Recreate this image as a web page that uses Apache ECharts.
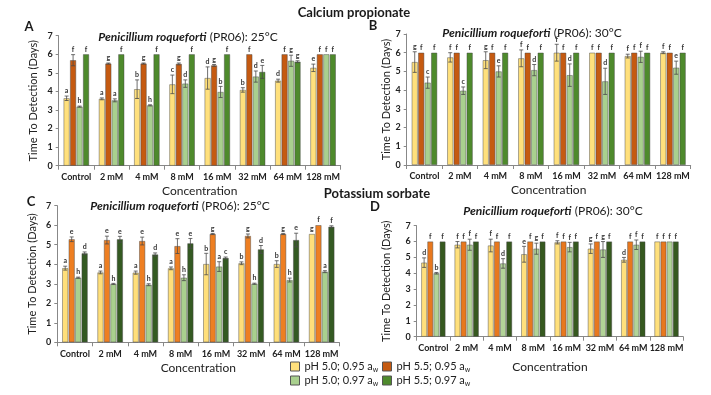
<!DOCTYPE html>
<html><head><meta charset="utf-8">
<script src="https://cdn.jsdelivr.net/npm/echarts@6/dist/echarts.min.js"></script>
<style>html,body{margin:0;padding:0;background:#fff}#c{width:711px;height:395px}</style>
</head><body><div id="c"></div>
<script>
// ---------- DATA ----------
const categories = ['Control','2 mM','4 mM','8 mM','16 mM','32 mM','64 mM','128 mM'];
const seriesNames = ['pH 5.0; 0.95 a_w','pH 5.5; 0.95 a_w','pH 5.0; 0.97 a_w','pH 5.5; 0.97 a_w'];
const yTicks = [0,1,2,3,4,5,6,7];

// Panel A: Calcium propionate, 25°C
const A_y95 = [3.63,3.60,4.12,4.38,4.72,4.08,4.58,5.27];
const A_o95 = [5.68,5.50,5.50,5.48,5.40,6.00,6.00,6.00];
const A_l97 = [3.18,3.52,3.25,4.42,3.97,4.80,5.65,6.00];
const A_d97 = [6.00,6.00,6.00,6.00,6.00,5.05,5.60,6.00];
const A_y95e = [0.12,0.05,0.50,0.50,0.60,0.12,0.08,0.20];
const A_o95e = [0.30,0.03,0.03,0.05,0.05,0,0,0];
const A_l97e = [0.03,0.08,0.03,0.20,0.30,0.30,0.30,0];
const A_d97e = [0,0,0,0,0,0.35,0.05,0];
const A_y95L = ['a','a','b','c','d','b','d','e'];
const A_o95L = ['f','g','g','g','g','f','f','f'];
const A_l97L = ['h','a','h','d','b','d','g','f'];
const A_d97L = ['f','f','f','f','f','e','g','f'];

// Panel B: Calcium propionate, 30°C
const B_y95 = [5.50,5.75,5.60,5.70,6.00,6.00,5.82,6.00];
const B_o95 = [6,6,6,6,6,6,6,6];
const B_l97 = [4.40,3.97,5.00,5.07,4.80,4.47,5.78,5.20];
const B_d97 = [6,6,6,6,6,6,6,6];
const B_y95e = [0.55,0.25,0.45,0.45,0.45,0,0.10,0.05];
const B_o95e = [0,0,0,0,0,0,0,0];
const B_l97e = [0.30,0.20,0.30,0.30,0.60,0.70,0.30,0.35];
const B_d97e = [0,0,0,0,0,0,0,0];
const B_y95L = ['g','f','g','f','f','f','f','f'];
const B_o95L = ['f','f','f','f','f','f','f','f'];
const B_l97L = ['c','c','e','d','d','d','f','e'];
const B_d97L = ['f','f','f','f','f','f','f','f'];

// Panel C: Potassium sorbate, 25°C
const C_y95 = [3.80,3.58,3.57,3.79,4.01,4.05,4.01,5.55];
const C_o95 = [5.28,5.24,5.19,4.93,5.55,5.45,5.55,6.00];
const C_l97 = [3.31,2.99,2.95,3.31,3.88,3.00,3.19,3.62];
const C_d97 = [4.56,5.28,4.50,5.07,4.32,4.76,5.24,5.92];
const C_y95e = [0.10,0.07,0.08,0.07,0.55,0.07,0.17,0];
const C_o95e = [0.12,0.20,0.20,0.38,0.03,0.10,0.03,0];
const C_l97e = [0.03,0.03,0.05,0.15,0.25,0.03,0.10,0.05];
const C_d97e = [0.07,0.15,0.08,0.25,0.05,0.20,0.35,0.05];
const C_y95L = ['a','a','a','a','b','b','b','g'];
const C_o95L = ['e','e','e','e','g','g','g','f'];
const C_l97L = ['h','h','h','h','a','h','h','a'];
const C_d97L = ['d','e','d','e','c','d','e','f'];

// Panel D: Potassium sorbate, 30°C
const D_y95 = [4.67,5.80,5.75,5.20,5.95,5.55,4.85,6.00];
const D_o95 = [6,6,6,6,6,6,6,6];
const D_l97 = [4.00,5.80,4.62,5.55,5.65,5.50,5.80,6.00];
const D_d97 = [6,6,6,6,6,6,6,6];
const D_y95e = [0.30,0.20,0.40,0.50,0.10,0.30,0.15,0];
const D_o95e = [0,0,0,0,0,0,0,0];
const D_l97e = [0.05,0.35,0.30,0.35,0.30,0.50,0.30,0];
const D_d97e = [0,0,0,0,0,0,0,0];
const D_y95L = ['d','f','f','e','f','g','d','f'];
const D_o95L = ['f','f','f','f','f','f','f','f'];
const D_l97L = ['b','f','d','g','f','g','f','f'];
const D_d97L = ['f','f','f','f','f','f','f','f'];

// ---------- LAYOUT / STYLE ----------
const FONT = 'Lato';
const panels = [
  {grid:{left:58.7, top:35.7, width:282, height:130}, vals:[A_y95,A_o95,A_l97,A_d97], errs:[A_y95e,A_o95e,A_l97e,A_d97e], lets:[A_y95L,A_o95L,A_l97L,A_d97L],
   colors:['#FFE07C','#C55A11','#A9D08E','#4E8A2C'], bw:6, yGap:20, xGap:19},
  {grid:{left:406.7, top:34, width:284, height:131}, vals:[B_y95,B_o95,B_l97,B_d97], errs:[B_y95e,B_o95e,B_l97e,B_d97e], lets:[B_y95L,B_o95L,B_l97L,B_d97L],
   colors:['#FFE07C','#C55A11','#A9D08E','#4E8A2C'], bw:6, yGap:15, xGap:19},
  {grid:{left:57.3, top:205.7, width:282, height:136.6}, vals:[C_y95,C_o95,C_l97,C_d97], errs:[C_y95e,C_o95e,C_l97e,C_d97e], lets:[C_y95L,C_o95L,C_l97L,C_d97L],
   colors:['#FFDF7A','#EE7F22','#A9D08E','#345A22'], bw:6, yGap:19, xGap:20},
  {grid:{left:416.7, top:225.7, width:266.5, height:111}, vals:[D_y95,D_o95,D_l97,D_d97], errs:[D_y95e,D_o95e,D_l97e,D_d97e], lets:[D_y95L,D_o95L,D_l97L,D_d97L],
   colors:['#FFE07C','#E8781E','#B2D497','#36591F'], bw:5.7, yGap:25, xGap:24}
];
const GAP = 0.08;

const grids = [], xAxes = [], yAxes = [], series = [];
panels.forEach((p, i) => {
  grids.push(Object.assign({containLabel:false}, p.grid));
  xAxes.push({type:'category', gridIndex:i, data:categories,
    name:'Concentration', nameLocation:'middle', nameGap:p.xGap,
    nameTextStyle:{fontFamily:FONT, fontSize:12, color:'#222'},
    axisLine:{lineStyle:{color:'#888', width:1}},
    axisTick:{show:true, length:4, lineStyle:{color:'#888'}},
    axisLabel:{interval:0, fontFamily:FONT, fontSize:9, fontWeight:'bold', color:'#222', margin:7},
    splitLine:{show:false}});
  yAxes.push({type:'value', gridIndex:i, min:yTicks[0], max:yTicks[yTicks.length-1], interval:1,
    name:'Time To Detection (Days)', nameLocation:'middle', nameGap:p.yGap,
    nameTextStyle:{fontFamily:FONT, fontSize:11, color:'#222'},
    axisLine:{show:true, lineStyle:{color:'#888', width:1}},
    axisTick:{show:true, length:3, lineStyle:{color:'#888'}},
    axisLabel:{fontFamily:FONT, fontSize:9, fontWeight:'bold', color:'#222', margin:6},
    splitLine:{show:false}});
  for (let s = 0; s < 4; s++) {
    series.push({type:'bar', name:seriesNames[s], xAxisIndex:i, yAxisIndex:i,
      data:p.vals[s], barWidth:p.bw, barGap:(GAP*100)+'%',
      itemStyle:{color:p.colors[s], borderColor:'rgba(70,70,70,0.75)', borderWidth:0.6},
      emphasis:{disabled:true}});
  }
  const edata = [];
  for (let c = 0; c < categories.length; c++)
    for (let s = 0; s < 4; s++) edata.push([c, p.vals[s][c], p.errs[s][c], s]);
  series.push({type:'custom', xAxisIndex:i, yAxisIndex:i, data:edata, z:10, silent:true,
    renderItem:(params, api) => {
      const c = api.value(0), v = api.value(1), e = api.value(2), s = api.value(3);
      const off = (s - 1.5) * (p.bw * (1 + GAP));
      const x = api.coord([c, v])[0] + off;
      const yT = api.coord([c, v + e])[1];
      const yB = api.coord([c, v - e])[1];
      const st = {stroke:'#4a4a4a', lineWidth:0.8};
      const ch = [];
      if (e > 0) {
        ch.push({type:'line', shape:{x1:x, y1:yT, x2:x, y2:yB}, style:st});
        ch.push({type:'line', shape:{x1:x-2, y1:yT, x2:x+2, y2:yT}, style:st});
        ch.push({type:'line', shape:{x1:x-2, y1:yB, x2:x+2, y2:yB}, style:st});
      }
      ch.push({type:'text', x:x, y:yT-1.5, style:{text:p.lets[s][c], align:'center', verticalAlign:'bottom',
        font:'bold 7px ' + FONT, fill:'#333'}});
      return {type:'group', children:ch};
    }});
});

function txt(x, y, text, font, extra) {
  return {type:'text', x:x, y:y, silent:true,
    style:Object.assign({text:text, font:font, fill:'#1a1a1a', align:'center', verticalAlign:'middle'}, extra || {})};
}
function sub(x, y, temp) {
  return {type:'text', x:x, y:y, silent:true, style:{
    text:'{i|Penicillium roqueforti} {n|(PR06): ' + temp + '}', align:'center', verticalAlign:'middle',
    rich:{i:{fontFamily:FONT, fontStyle:'italic', fontWeight:'bold', fontSize:12, fill:'#1a1a1a'},
          n:{fontFamily:FONT, fontSize:12, fill:'#1a1a1a'}}}};
}
const graphics = [
  txt(354, 13, 'Calcium propionate', 'bold 13px ' + FONT),
  txt(377, 194, 'Potassium sorbate', 'bold 13px ' + FONT),
  txt(29, 27, 'A', 'bold 13px ' + FONT),
  txt(373, 26, 'B', 'bold 13px ' + FONT),
  txt(31, 202, 'C', 'bold 13px ' + FONT),
  txt(375, 207, 'D', 'bold 13px ' + FONT),
  sub(188, 37, '25°C'),
  sub(532, 33.5, '30°C'),
  sub(180, 206.5, '25°C'),
  sub(553, 211.5, '30°C')
];

function leg(name, left, top) {
  return {data:[name], left:left, top:top, itemWidth:9, itemHeight:9, itemGap:5, icon:'rect',
    selectedMode:false, padding:0,
    itemStyle:{borderColor:'#555', borderWidth:1},
    textStyle:{fontFamily:FONT, fontSize:11, color:'#222',
      rich:{w:{fontFamily:FONT, fontSize:7, color:'#222', padding:[6,0,0,0]}}},
    formatter:(n) => n.replace('a_w', 'a{w|w}')};
}

const chart = echarts.init(document.getElementById('c'), null, {renderer:'canvas'});
chart.setOption({
  animation:false,
  backgroundColor:'#fff',
  grid:grids, xAxis:xAxes, yAxis:yAxes, series:series,
  legend:[leg(seriesNames[0], 290, 361), leg(seriesNames[1], 382, 361),
          leg(seriesNames[2], 290, 375), leg(seriesNames[3], 382, 375)],
  graphic:graphics
});
</script></body></html>
